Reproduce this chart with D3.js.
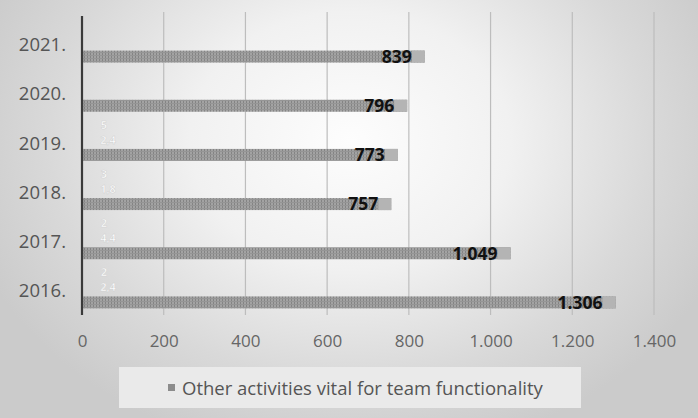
<!DOCTYPE html>
<html>
<head>
<meta charset="utf-8">
<script src="https://cdn.jsdelivr.net/npm/d3@7/dist/d3.min.js"></script>
<style>
  html, body { margin: 0; padding: 0; background: #ffffff; }
  svg { display: block; }
  text { font-family: "Open Sans", "Liberation Sans", sans-serif; }
</style>
</head>
<body>
<div id="chart"></div>
<script>
// Years shown on the vertical axis (top to bottom)
const years = ["2021.", "2020.", "2019.", "2018.", "2017.", "2016."];
// Hours spent on other activities vital for team functionality
const activityValues = [839, 796, 773, 757, 1049, 1306];
// Labels of the companion series (drawn in white, two lines each)
const shareLabels = [null, null, ["5", "2,4"], ["3", "1,8"], ["2", "4,4"], ["2", "2,4"]];
// Value axis ticks
const xTicks = [0, 200, 400, 600, 800, 1000, 1200, 1400];
const seriesName = "Other activities vital for team functionality";

const W = 698, H = 418;
const fmt = v => d3.format(",")(v).replace(/,/g, ".");

const svg = d3.select("#chart").append("svg")
  .attr("width", W).attr("height", H);

const defs = svg.append("defs");

// Soft background: light in the middle, grey toward the edges
const bg = defs.append("radialGradient").attr("id", "bg")
  .attr("gradientUnits", "userSpaceOnUse")
  .attr("cx", 350).attr("cy", 140).attr("r", 400)
  .attr("gradientTransform", "translate(350,140) scale(1,0.8) translate(-350,-140)");
bg.append("stop").attr("offset", "0%").attr("stop-color", "#fdfdfd");
bg.append("stop").attr("offset", "40%").attr("stop-color", "#f1f1f1");
bg.append("stop").attr("offset", "75%").attr("stop-color", "#d9d9d9");
bg.append("stop").attr("offset", "100%").attr("stop-color", "#cbcbcb");

// Fine woven texture for the bars
const pat = defs.append("pattern").attr("id", "barTex")
  .attr("patternUnits", "userSpaceOnUse").attr("width", 3).attr("height", 3);
pat.append("rect").attr("width", 3).attr("height", 3).attr("fill", "#a3a3a3");
pat.append("rect").attr("x", 0).attr("width", 1).attr("height", 3).attr("fill", "#848484");
pat.append("rect").attr("y", 1).attr("width", 3).attr("height", 1).attr("fill", "#959595");

svg.append("rect").attr("width", W).attr("height", H).attr("fill", "url(#bg)");

const x = d3.scaleLinear().domain([0, 1400]).range([82, 654]);
const y = d3.scaleBand().domain(years).range([20, 315]);
const plotTop = 12, plotBottom = 315;

// Vertical gridlines
svg.append("g").selectAll("line").data(xTicks.slice(1)).join("line")
  .attr("x1", d => x(d)).attr("x2", d => x(d))
  .attr("y1", plotTop).attr("y2", plotBottom)
  .attr("stroke", "#bdbdbd").attr("stroke-width", 1.2);

// Value axis labels
const xAxis = d3.axisBottom(x).tickValues(xTicks).tickFormat(fmt).tickSize(0).tickPadding(0);
const gx = svg.append("g").attr("transform", `translate(0,${plotBottom + 32})`).call(xAxis);
gx.select(".domain").remove();
gx.selectAll("text").attr("fill", "#666").attr("font-size", 17).attr("dy", null).attr("y", 0);

// Bars
const barOff = 6, barH = 12;
svg.append("g").selectAll("rect").data(activityValues).join("rect")
  .attr("x", x(0))
  .attr("y", (d, i) => y(years[i]) + y.bandwidth() / 2 + barOff)
  .attr("width", d => x(d) - x(0))
  .attr("height", barH)
  .attr("fill", "url(#barTex)");

// Light tail at the end of each bar
svg.append("g").selectAll("rect").data(activityValues).join("rect")
  .attr("x", d => x(d) - 13)
  .attr("y", (d, i) => y(years[i]) + y.bandwidth() / 2 + barOff)
  .attr("width", 13)
  .attr("height", barH)
  .attr("fill", "#b4b4b4");

// Value labels
svg.append("g").selectAll("text").data(activityValues).join("text")
  .attr("x", d => x(d) - 13)
  .attr("y", (d, i) => y(years[i]) + y.bandwidth() / 2 + barOff + barH / 2)
  .attr("dy", "0.36em")
  .attr("text-anchor", "end")
  .attr("font-size", 17.5).attr("font-weight", "bold")
  .attr("fill", "#111")
  .text(fmt);

// Companion series labels in white
const sl = svg.append("g");
shareLabels.forEach((lab, i) => {
  if (!lab) return;
  const cy = y(years[i]) + y.bandwidth() / 2;
  sl.append("text").attr("x", 104).attr("y", cy - 18).attr("dy", "0.36em")
    .attr("text-anchor", "middle").attr("font-size", 11).attr("font-weight", "bold")
    .attr("fill", "#ffffff").attr("stroke", "#cfcfcf").attr("stroke-width", 0.5)
    .text(lab[0]);
  sl.append("text").attr("x", 108).attr("y", cy - 3).attr("dy", "0.36em")
    .attr("text-anchor", "middle").attr("font-size", 11).attr("font-weight", "bold")
    .attr("fill", "#ffffff").attr("stroke", "#cfcfcf").attr("stroke-width", 0.5)
    .text(lab[1]);
});

// Category axis line
svg.append("line")
  .attr("x1", x(0)).attr("x2", x(0))
  .attr("y1", plotTop + 4).attr("y2", plotBottom)
  .attr("stroke", "#3a3a3a").attr("stroke-width", 2.2);

// Year labels
svg.append("g").selectAll("text").data(years).join("text")
  .attr("x", 66)
  .attr("y", d => y(d) + y.bandwidth() / 2)
  .attr("dy", "0.36em")
  .attr("text-anchor", "end")
  .attr("font-size", 18.5)
  .attr("fill", "#555")
  .text(d => d);

// Legend
const lg = svg.append("g");
lg.append("rect").attr("x", 119).attr("y", 367).attr("width", 462).attr("height", 41)
  .attr("fill", "#eaeaea");
lg.append("rect").attr("x", 168).attr("y", 384).attr("width", 7).attr("height", 7)
  .attr("fill", "#8c8c8c");
lg.append("text").attr("x", 182).attr("y", 388).attr("dy", "0.36em")
  .attr("font-size", 18.5).attr("fill", "#555")
  .text(seriesName);
</script>
</body>
</html>
